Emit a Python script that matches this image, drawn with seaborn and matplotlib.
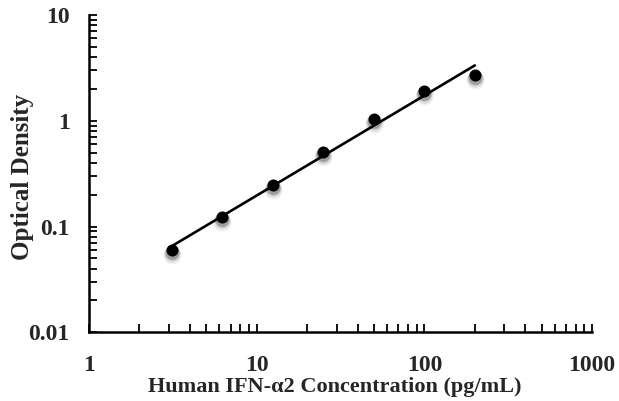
import numpy as np
import pandas as pd
import matplotlib
matplotlib.use("Agg")
import matplotlib.pyplot as plt
import matplotlib.transforms as mtransforms
from matplotlib.ticker import LogLocator, FixedLocator, FixedFormatter, NullFormatter
import seaborn as sns

# ---- data ----
concentration = [3.125, 6.25, 12.5, 25, 50, 100, 200]
optical_density = [0.060, 0.122, 0.247, 0.506, 1.03, 1.91, 2.70]
x_ticks = [1, 10, 100, 1000]
x_tick_labels = ["1", "10", "100", "1000"]
y_ticks = [0.01, 0.1, 1, 10]
y_tick_labels = ["0.01", "0.1", "1", "10"]
x_label = "Human IFN-\u03b12 Concentration (pg/mL)"
y_label = "Optical Density"

df = pd.DataFrame({"conc": concentration, "od": optical_density})

# power-law trendline fitted from the data
slope, intercept = np.polyfit(np.log10(df["conc"]), np.log10(df["od"]), 1)
fit_x = np.array([df["conc"].min(), df["conc"].max()])
fit_df = pd.DataFrame({"conc": fit_x, "od": 10 ** (intercept + slope * np.log10(fit_x))})

sns.set_theme(style="white")
plt.rcParams["font.family"] = ["Liberation Serif", "DejaVu Serif"]
plt.rcParams["font.weight"] = "bold"

fig = plt.figure(figsize=(6.19, 4.01), dpi=100)
ax = fig.add_axes([0.1438, 0.1713, 0.8126, 0.7913])
ax.set_xscale("log")
ax.set_yscale("log")
ax.set_xlim(1, 1000)
ax.set_ylim(0.01, 10)

# soft shadow under the markers
for dy, s, a in [(-2, 110, 0.10), (-3, 130, 0.08), (-4, 150, 0.06), (-5, 170, 0.05), (-3, 95, 0.15)]:
    tr = mtransforms.offset_copy(ax.transData, fig=fig, x=0, y=dy, units="dots")
    ax.scatter(df["conc"], df["od"], s=s, color="black", alpha=a, linewidths=0,
               transform=tr, zorder=2)

sns.scatterplot(data=df, x="conc", y="od", ax=ax, color="black", s=75,
                linewidth=0, zorder=3)
sns.lineplot(data=fit_df, x="conc", y="od", ax=ax, color="black", lw=1.9, zorder=4)

ax.xaxis.set_major_locator(FixedLocator(x_ticks))
ax.xaxis.set_major_formatter(FixedFormatter(x_tick_labels))
ax.yaxis.set_major_locator(FixedLocator(y_ticks))
ax.yaxis.set_major_formatter(FixedFormatter(y_tick_labels))
ax.xaxis.set_minor_locator(LogLocator(base=10, subs=np.arange(2, 10)))
ax.yaxis.set_minor_locator(LogLocator(base=10, subs=np.arange(2, 10)))
ax.xaxis.set_minor_formatter(NullFormatter())
ax.yaxis.set_minor_formatter(NullFormatter())

for side in ["top", "right"]:
    ax.spines[side].set_visible(False)
for side in ["left", "bottom"]:
    ax.spines[side].set_color("black")
    ax.spines[side].set_linewidth(1.8)

ax.tick_params(axis="both", which="both", direction="in", color="black",
               width=1.3, length=5.5, left=True, bottom=True)
ax.tick_params(axis="x", which="major", pad=16, labelsize=17)
ax.tick_params(axis="y", which="major", pad=14, labelsize=17)
for lab in ax.get_xticklabels() + ax.get_yticklabels():
    lab.set_fontweight("bold")

ax.set_xlabel(x_label, fontsize=16, fontweight="bold")
ax.set_ylabel(y_label, fontsize=18, fontweight="bold")
ax.xaxis.set_label_coords(0.488, -0.142)
ax.yaxis.set_label_coords(-0.109, 0.491)
ax.grid(False)

fig.savefig("out.png", dpi=100, facecolor="white")
